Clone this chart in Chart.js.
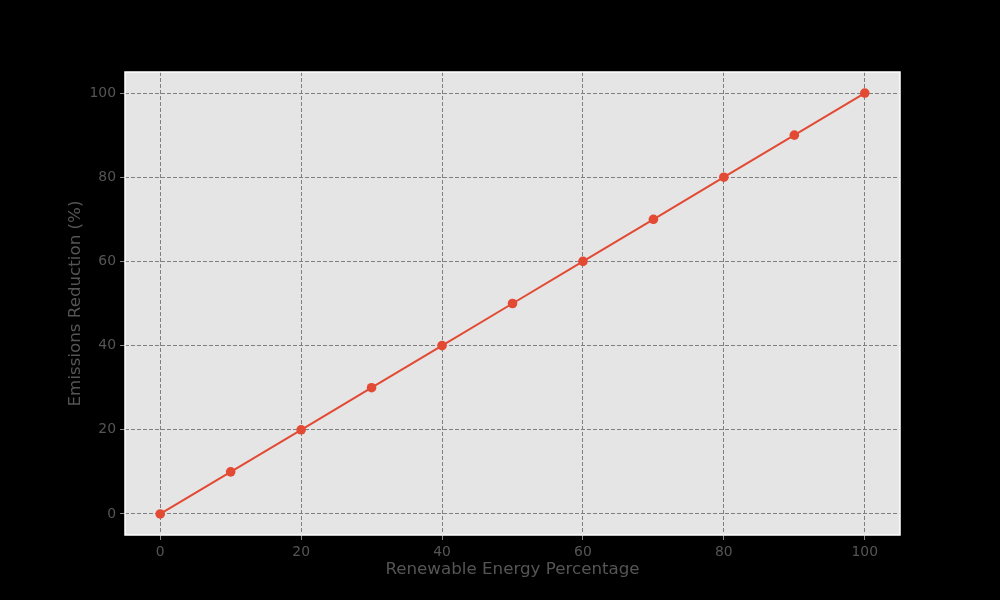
<!DOCTYPE html>
<html>
<head>
<meta charset="utf-8">
<script src="https://cdn.jsdelivr.net/npm/chart.js@4"></script>
<style>
    html, body { margin: 0; padding: 0; background: #000; }
    #wrap { width: 1000px; height: 600px; position: relative; }
</style>
</head>
<body>
<div id="wrap"><canvas id="chart" width="1000" height="600"></canvas></div>
<script>
var renewableShare = [0, 10, 20, 30, 40, 50, 60, 70, 80, 90, 100];
var emissionsReduction = [0, 10, 20, 30, 40, 50, 60, 70, 80, 90, 100];
var xTicks = [0, 20, 40, 60, 80, 100];
var yTicks = [0, 20, 40, 60, 80, 100];

var points = [];
for (var i = 0; i < renewableShare.length; i++) {
    points.push({ x: renewableShare[i], y: emissionsReduction[i] });
}

var backdrop = {
    id: 'backdrop',
    beforeDraw: function (chart) {
        var ctx = chart.ctx;
        var a = chart.chartArea;
        ctx.save();
        ctx.fillStyle = '#000';
        ctx.fillRect(0, 0, chart.width, chart.height);
        ctx.fillStyle = '#e5e5e5';
        ctx.fillRect(a.left, a.top, a.right - a.left, a.bottom - a.top);
        ctx.restore();
    },
    afterDatasetsDraw: function (chart) {
        var ctx = chart.ctx;
        var a = chart.chartArea;
        ctx.save();
        ctx.strokeStyle = '#fff';
        ctx.lineWidth = 1.5;
        ctx.strokeRect(a.left, a.top, a.right - a.left, a.bottom - a.top);
        ctx.restore();
    }
};

function fixedTicks(list) {
    return function (scale) {
        scale.ticks = list.map(function (v) { return { value: v }; });
    };
}

new Chart(document.getElementById('chart').getContext('2d'), {
    type: 'line',
    data: {
        datasets: [{
            data: points,
            borderColor: '#e24a33',
            backgroundColor: '#e24a33',
            borderWidth: 2,
            pointRadius: 4.8,
            pointBackgroundColor: '#e24a33',
            pointBorderColor: '#e24a33',
            pointBorderWidth: 0,
            tension: 0
        }]
    },
    options: {
        responsive: false,
        animation: false,
        layout: {
            padding: { left: 62, right: 100, top: 72, bottom: 20 }
        },
        plugins: {
            legend: { display: false },
            tooltip: { enabled: false }
        },
        scales: {
            x: {
                type: 'linear',
                min: -5,
                max: 105,
                afterBuildTicks: fixedTicks(xTicks),
                afterFit: function (scale) { scale.height = 45; },
                border: { display: false, dash: [4, 2] },
                grid: {
                    color: '#808080',
                    lineWidth: 1,
                    tickLength: 5,
                    tickColor: '#888',
                    tickBorderDash: []
                },
                ticks: {
                    color: '#555',
                    padding: 4,
                    font: { family: 'DejaVu Sans', size: 13.9 }
                },
                title: {
                    display: true,
                    text: 'Renewable Energy Percentage',
                    color: '#555',
                    padding: { top: 0, bottom: 0 },
                    font: { family: 'DejaVu Sans', size: 16.7 }
                }
            },
            y: {
                type: 'linear',
                min: -5,
                max: 105,
                afterBuildTicks: fixedTicks(yTicks),
                afterFit: function (scale) { scale.width = 63; },
                border: { display: false, dash: [4, 2] },
                grid: {
                    color: '#808080',
                    lineWidth: 1,
                    tickLength: 5,
                    tickColor: '#888',
                    tickBorderDash: []
                },
                ticks: {
                    color: '#555',
                    padding: 4,
                    font: { family: 'DejaVu Sans', size: 13.9 }
                },
                title: {
                    display: true,
                    text: 'Emissions Reduction (%)',
                    color: '#555',
                    padding: { top: 4, bottom: 0 },
                    font: { family: 'DejaVu Sans', size: 16.7 }
                }
            }
        }
    },
    plugins: [backdrop]
});
</script>
</body>
</html>
